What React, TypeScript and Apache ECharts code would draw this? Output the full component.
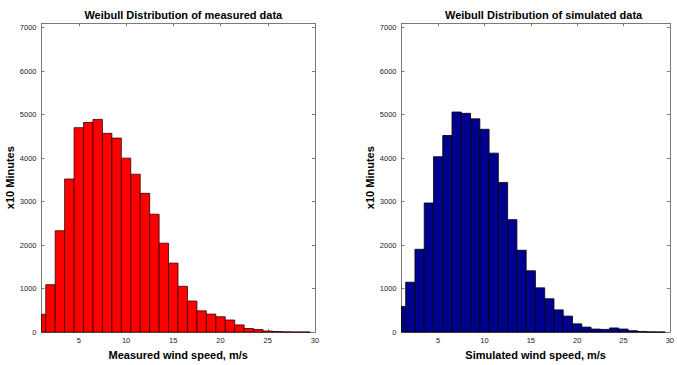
import React, { useEffect, useRef } from "react";
import * as echarts from "echarts";

const binCenters = [1, 2, 3, 4, 5, 6, 7, 8, 9, 10, 11, 12, 13, 14, 15, 16, 17, 18, 19, 20, 21, 22, 23, 24, 25, 26, 27, 28, 29];
const measured = [410, 1090, 2330, 3520, 4700, 4820, 4890, 4570, 4460, 4000, 3630, 3190, 2710, 2045, 1586, 1053, 714, 489, 414, 353, 278, 165, 83, 60, 25, 15, 6, 3, 2];
const simulated = [590, 1147, 1904, 2969, 4033, 4520, 5060, 5030, 4903, 4663, 4115, 3441, 2586, 1882, 1410, 1018, 767, 511, 368, 190, 115, 70, 62, 95, 70, 32, 15, 5, 2];
const xTicks = [5, 10, 15, 20, 25, 30];
const yTicks = [0, 1000, 2000, 3000, 4000, 5000, 6000, 7000];
const titles = ["Weibull Distribution of measured data", "Weibull Distribution of simulated data"];
const xNames = ["Measured wind speed, m/s", "Simulated wind speed, m/s"];
const yName = "x10 Minutes";

const BIN_WIDTH = 1;
const X_MIN = 1.05;
const X_MAX = 30;
const Y_MAX = 7100;
const FONT = "'Liberation Sans', Arial, Helvetica, sans-serif";
const AXIS_COLOR = "#7a7a7a";

function makeRender(fill: string, stroke: string) {
  return (params: any, api: any) => {
    const x = api.value(0);
    const y = api.value(1);
    const p0 = api.coord([x - BIN_WIDTH / 2, y]);
    const p1 = api.coord([x + BIN_WIDTH / 2, 0]);
    const cs = params.coordSys;
    const rect = echarts.graphic.clipRectByRect(
      { x: p0[0], y: p0[1], width: p1[0] - p0[0], height: p1[1] - p0[1] },
      { x: cs.x, y: cs.y, width: cs.width, height: cs.height }
    );
    if (!rect) return null;
    return {
      type: "rect",
      shape: rect,
      style: { fill, stroke, lineWidth: 0.8 },
    };
  };
}

export default function App() {
  const ref = useRef<HTMLDivElement>(null);
  useEffect(() => {
    if (!ref.current) return;
    const chart = echarts.init(ref.current, null, { renderer: "svg" });
    const grids = [
      { left: 41.5, top: 23.3, width: 273.5, height: 313.3 },
      { left: 401.5, top: 23.3, width: 274.2, height: 313.3 },
    ];
    const plain = (v: number) => String(v);
    const xAxes: any[] = [];
    const yAxes: any[] = [];
    grids.forEach((_, gi) => {
      xAxes.push({
        type: "value",
        gridIndex: gi,
        position: "bottom",
        min: X_MIN,
        max: X_MAX,
        name: xNames[gi],
        nameLocation: "middle",
        nameGap: 12,
        nameTextStyle: { fontFamily: FONT, fontWeight: "bold", fontSize: 11, color: "#000" },
        axisLine: { show: true, onZero: false, lineStyle: { color: AXIS_COLOR, width: 1 } },
        axisTick: { show: true, inside: true, length: 3, customValues: xTicks, lineStyle: { color: AXIS_COLOR } },
        axisLabel: { show: true, customValues: xTicks, formatter: plain, margin: 4, fontSize: 7.5, fontFamily: FONT, color: "#222" },
        splitLine: { show: false },
      });
      xAxes.push({
        type: "value",
        gridIndex: gi,
        position: "top",
        min: X_MIN,
        max: X_MAX,
        axisLine: { show: true, onZero: false, lineStyle: { color: AXIS_COLOR, width: 1 } },
        axisTick: { show: true, inside: true, length: 3, customValues: xTicks, lineStyle: { color: AXIS_COLOR } },
        axisLabel: { show: false },
        splitLine: { show: false },
      });
      yAxes.push({
        type: "value",
        gridIndex: gi,
        position: "left",
        min: 0,
        max: Y_MAX,
        name: yName,
        nameLocation: "middle",
        nameGap: 22,
        nameTextStyle: { fontFamily: FONT, fontWeight: "bold", fontSize: 11, color: "#000" },
        axisLine: { show: true, onZero: false, lineStyle: { color: AXIS_COLOR, width: 1 } },
        axisTick: { show: true, inside: true, length: 3, customValues: yTicks, lineStyle: { color: AXIS_COLOR } },
        axisLabel: { show: true, customValues: yTicks, formatter: plain, margin: 5, fontSize: 7.5, fontFamily: FONT, color: "#222" },
        splitLine: { show: false },
      });
      yAxes.push({
        type: "value",
        gridIndex: gi,
        position: "right",
        min: 0,
        max: Y_MAX,
        axisLine: { show: true, onZero: false, lineStyle: { color: AXIS_COLOR, width: 1 } },
        axisTick: { show: true, inside: true, length: 3, customValues: yTicks, lineStyle: { color: AXIS_COLOR } },
        axisLabel: { show: false },
        splitLine: { show: false },
      });
    });
    chart.setOption({
      animation: false,
      backgroundColor: "#fff",
      title: [
        {
          text: titles[0],
          left: 178.3,
          top: 4,
          textAlign: "center",
          textStyle: { fontFamily: FONT, fontWeight: "bold", fontSize: 11, color: "#000" },
        },
        {
          text: titles[1],
          left: 538.6,
          top: 4,
          textAlign: "center",
          textStyle: { fontFamily: FONT, fontWeight: "bold", fontSize: 11, color: "#000" },
        },
      ],
      grid: grids,
      xAxis: xAxes,
      yAxis: yAxes,
      series: [
        {
          type: "custom",
          xAxisIndex: 0,
          yAxisIndex: 0,
          encode: { x: 0, y: 1 },
          renderItem: makeRender("#ff0000", "#300000"),
          data: binCenters.map((c, i) => [c, measured[i]]),
        },
        {
          type: "custom",
          xAxisIndex: 2,
          yAxisIndex: 2,
          encode: { x: 0, y: 1 },
          renderItem: makeRender("#00008f", "#000000"),
          data: binCenters.map((c, i) => [c, simulated[i]]),
        },
      ],
    });
    return () => chart.dispose();
  }, []);
  return <div ref={ref} style={{ position: "fixed", left: 0, top: 0, width: 677, height: 365 }} />;
}
